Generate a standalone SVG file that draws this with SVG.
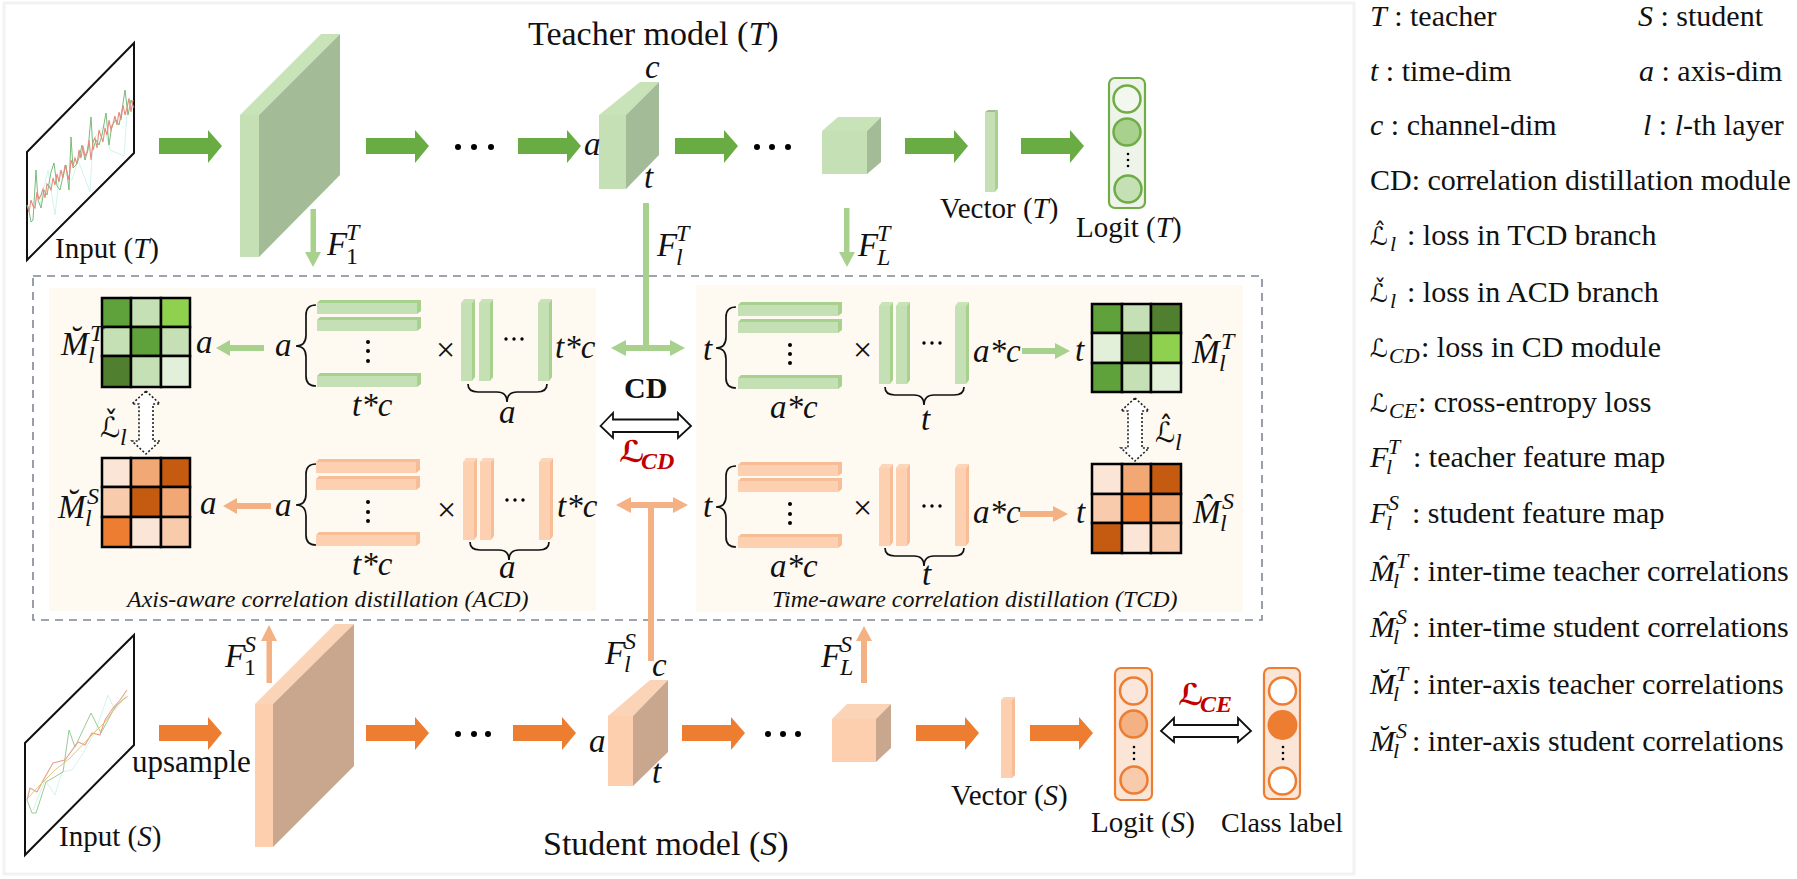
<svg xmlns="http://www.w3.org/2000/svg" width="1797" height="879" viewBox="0 0 1797 879">
<style>
text{font-family:"Liberation Serif","DejaVu Serif",serif;fill:#111}
.t34{font-size:34px}.t28{font-size:29px}.t27{font-size:28px}.t31{font-size:31px}.t30{font-size:30px}.cap{font-size:24px;font-style:italic}
.m{font-size:33px;font-style:italic}.sc{font-size:24px;font-style:italic}.i{font-style:italic}.up{font-style:normal}
.lg{font-size:30px;font-style:normal}.lm{font-size:30px;font-style:italic}.ls{font-size:22px;font-style:italic}
.sl{font-family:"DejaVu Sans",sans-serif;font-size:25px;font-style:normal}
.bold{font-weight:bold}.red{fill:#c00000;font-weight:bold}
.dot{fill:#000}.brace{fill:none;stroke:#111;stroke-width:1.7}
.gthin{fill:#a9d18e}.othin{fill:#f4b183}.gthick{fill:#68ac43}.othick{fill:#ed7d31}
.gf{fill:#c5e0b4}.gt{fill:#c9e3b9}.gs{fill:#a3bb96}.of{fill:#fdcfae}.ot{fill:#fbd3b6}.os{fill:#c9a78e}
.grid{stroke:#000;stroke-width:2.5}
.dbl{fill:#fff;stroke:#111;stroke-width:1.8}.dotarrow{fill:#fff;stroke:#222;stroke-width:1.6;stroke-dasharray:2 2}
.panel{fill:#fefaf2}
.lgreen{fill:#eef4ea;stroke:#70ad47;stroke-width:2.2}.logr{fill:#fbe5d6;stroke:#ed7d31;stroke-width:2.2}
.cg{stroke:#70ad47;stroke-width:2.5}.co{stroke:#ed7d31;stroke-width:2.5}
.inp{fill:#fff;stroke:#111;stroke-width:2}
</style>
<defs>
<path id="thick" d="M0,-8 H49 V-16 L63,0 L49,17 V8 H0Z"/>
<g id="hG"><rect y="3" width="100" height="11" fill="#c5e0b4"/><path d="M0,3 L3,0 H104 L100,3Z M100,3 L104,0 V11 L100,14Z" fill="#a9d18e"/></g>
<g id="hO"><rect y="3" width="100" height="11" fill="#fcd0b0"/><path d="M0,3 L3,0 H104 L100,3Z M100,3 L104,0 V11 L100,14Z" fill="#f6bd97"/></g>
<g id="vG"><rect y="4" width="11" height="78" fill="#c5e0b4"/><path d="M0,4 L3,0 H14 L11,4Z" fill="#c9e3b9"/><path d="M11,4 L14,0 V78 L11,82Z" fill="#a9d18e"/></g>
<g id="vO"><rect y="4" width="11" height="78" fill="#fcd0b0"/><path d="M0,4 L3,0 H14 L11,4Z" fill="#fcd6ba"/><path d="M11,4 L14,0 V78 L11,82Z" fill="#f6bd97"/></g>
<path id="lbrace" class="brace" d="M20,0 Q10,0 10,10 V30 Q10,41 0,41 Q10,41 10,52 V71 Q10,81 20,81"/>
<path id="bbrace" class="brace" d="M0,0 Q0,8 10,8 H29 Q39,8 39,18 Q39,8 49,8 H69 Q79,8 79,0"/>
<path id="dotV" class="dotarrow" d="M0,0 L14,13 H7 V50 H14 L0,63 L-14,50 H-7 V13 H-14Z"/>
</defs>

<rect x="4" y="3" width="1350" height="871" fill="#fff" stroke="#f2f2f2" stroke-width="3"/>

<g id="panels">
<rect id="acd-panel" class="panel" x="49" y="288" width="547" height="323"/>
<rect id="tcd-panel" class="panel" x="696" y="285" width="547" height="327"/>
<rect id="cd-box" x="33" y="276" width="1229" height="344" fill="none" stroke="#7f8896" stroke-width="1.6" stroke-dasharray="8 6"/>
</g>

<g id="connectors">
<use href="#thick" class="gthick" x="159" y="146"/>
<use href="#thick" class="gthick" x="366" y="146"/>
<use href="#thick" class="gthick" x="518" y="146"/>
<use href="#thick" class="gthick" x="675" y="146"/>
<use href="#thick" class="gthick" x="905" y="146"/>
<use href="#thick" class="gthick" x="1021" y="146"/>
<use href="#thick" class="othick" x="159" y="733"/>
<use href="#thick" class="othick" x="366" y="733"/>
<use href="#thick" class="othick" x="513" y="733"/>
<use href="#thick" class="othick" x="682" y="733"/>
<use href="#thick" class="othick" x="916" y="733"/>
<use href="#thick" class="othick" x="1030" y="733"/>
<path class="gthin" d="M310.500,209 H316 V252 H321 L313,267 L305,252 H310.500Z"/>
<path class="gthin" d="M844,208 H849.500 V252 H855 L847,267 L839,252 H844Z"/>
<path class="gthin" d="M643,203 H649 V345 H670 V340 L685,348 L670,356 V351 H626 V356 L611,348 L626,340 V345 H643Z"/>
<path class="gthin" d="M264,345 V351 H230 V356 L216,348 L230,340 V345Z"/>
<path class="gthin" d="M1022,348 V354 H1055 V359 L1070,351 L1055,343 V348Z"/>
<path class="othin" d="M648,661 H654 V508 H673 V513 L688,505 L673,497 V502 H631 V497 L616,505 L631,513 V508 H648Z"/>
<path class="othin" d="M271,503 V509 H237 V514 L223,506 L237,498 V503Z"/>
<path class="othin" d="M1020,511 V517 H1053 V522 L1068,514 L1053,506 V511Z"/>
<path class="othin" d="M266.500,683 H272 V641 H277 L269,625 L261,641 H266.500Z"/>
<path class="othin" d="M861,683 H867 V641 H872 L864,626 L856,641 H861Z"/>
<path class="dbl" d="M600.500,426 L613,413 V419.500 H678 V413 L691,426 L678,438 V432 H613 V438Z"/>
<path class="dbl" d="M1161,731 L1174,718 V725 H1238 V718 L1251,731 L1238,742 V737 H1174 V742Z"/>
<use href="#dotV" x="146" y="391"/>
<use href="#dotV" x="1135" y="398"/>
</g>

<g id="input-t">
<path class="inp" d="M27,152 L134,43 V153 L27,260Z"/>
<polyline fill="none" stroke="#c8f0ea" stroke-width="0.800" points="40,205 48,170 55,215 60,170 72,180 78,160 90,192 93,140 104,125 110,150 124,156 128,100"/>
<polyline fill="none" stroke="#6cb26c" stroke-width="0.900" points="28,206 31,222 33,220 36,170 38,200 41,208 44,190 47,195 51,172 54,163 57,186 60,190 63,176 66,165 69,190 71,137 73,168 76,165 79,158 82,145 85,160 88,150 91,117 93,150 96,140 99,145 102,135 106,113 109,145 112,125 116,120 119,125 122,110 125,90 128,115 131,100 134,108"/>
<polyline fill="none" stroke="#e58b7c" stroke-width="1.100" points="27,205 29,212 31,200 33,206 35,208 37,192 39,199 41,195 43,189 45,198 47,184 49,186 51,190 53,178 55,185 57,174 59,182 61,170 63,178 65,165 67,172 69,180 71,160 73,166 75,158 77,164 79,150 81,158 83,146 85,156 87,152 89,140 91,160 93,142 95,138 97,148 99,130 101,136 103,142 105,128 107,135 109,120 111,130 113,124 115,116 117,125 119,112 121,120 123,105 125,115 127,108 129,98 131,112 133,100"/>
</g>
<g id="input-s">
<path class="inp" d="M25,743 L134,635 V745 L25,855Z"/>
<polyline fill="none" stroke="#c8f0ea" stroke-width="0.800" points="33,810 45,780 55,795 62,772 72,770 82,755 96,730 108,695 115,710 126,695"/>
<polyline fill="none" stroke="#8fc48a" stroke-width="0.900" points="27,800 32,813 36,813 46,782 63,772 69,730 75,747 91,713 101,733 115,707 126,697"/>
<polyline fill="none" stroke="#e8a08e" stroke-width="1.100" points="27,800 30,788 37,792 45,777 53,763 65,760 78,742 85,745 92,733 100,735 105,720 113,708 120,700 127,690"/>
<polyline fill="none" stroke="#dcc070" stroke-width="0.900" points="28,798 40,785 55,770 70,758 90,737 105,722 118,704 128,696"/>
</g>

<g id="block-t1"><rect class="gf" x="240" y="115" width="19" height="142"/><path class="gt" d="M240,115 L321,34 H340 L259,115Z"/><path class="gs" d="M259,115 L340,34 V175 L259,257Z"/></g>
<g id="block-tl"><rect class="gf" x="599" y="115" width="27" height="74"/><path class="gt" d="M599,115 L640,82 H659 L626,115Z"/><path class="gs" d="M626,115 L659,82 V155 L626,189Z"/></g>
<g id="block-tL"><rect class="gf" x="822" y="131" width="45" height="43"/><path class="gt" d="M822,131 L838,117 H881 L867,131Z"/><path class="gs" d="M867,131 L881,117 V162 L867,174Z"/></g>
<g id="vector-t"><rect class="gf" x="985" y="112" width="10" height="80"/><path class="gs" d="M985,112 L988,110 H998 L995,112Z"/><path fill="#a9d18e" d="M995,112 L998,110 V188 L995,192Z"/></g>
<g id="logit-t"><rect class="lgreen" x="1109" y="78" width="36" height="130" rx="6"/>
<circle class="cg" cx="1127" cy="99" r="13.500" fill="#f3f8ef"/><circle class="cg" cx="1127" cy="132" r="13.500" fill="#a9d18e"/><circle class="cg" cx="1128" cy="189" r="13.500" fill="#c5e0b4"/>
<circle class="dot" cx="1128" cy="154" r="1.300"/><circle class="dot" cx="1128" cy="160" r="1.300"/><circle class="dot" cx="1128" cy="166" r="1.300"/></g>

<g id="block-s1"><rect class="of" x="255" y="704" width="18" height="143"/><path class="ot" d="M255,704 L335,624 H354 L273,704Z"/><path class="os" d="M273,704 L354,624 V766 L273,847Z"/></g>
<g id="block-sl"><rect class="of" x="608" y="716" width="25" height="70"/><path class="ot" d="M608,716 L650,680 H668 L633,716Z"/><path class="os" d="M633,716 L668,680 V752 L633,786Z"/></g>
<g id="block-sL"><rect class="of" x="832" y="719" width="44" height="43"/><path class="ot" d="M832,719 L847,704 H891 L876,719Z"/><path class="os" d="M876,719 L891,704 V748 L876,762Z"/></g>
<g id="vector-s"><rect class="of" x="1001" y="700" width="11" height="78"/><path class="ot" d="M1001,700 L1004,697 H1015 L1012,700Z"/><path fill="#f6bd97" d="M1012,700 L1015,697 V775 L1012,778Z"/></g>
<g id="logit-s"><rect class="logr" x="1115" y="668" width="37" height="132" rx="6"/>
<circle class="co" cx="1133.500" cy="691" r="13.500" fill="#fae6da"/><circle class="co" cx="1133.500" cy="724" r="13.500" fill="#f4b183"/><circle class="co" cx="1134" cy="780" r="13.500" fill="#f8cbad"/>
<circle class="dot" cx="1134" cy="747" r="1.300"/><circle class="dot" cx="1134" cy="753" r="1.300"/><circle class="dot" cx="1134" cy="759" r="1.300"/></g>
<g id="class-label"><rect class="logr" x="1264" y="668" width="36" height="131" rx="6"/>
<circle class="co" cx="1282.500" cy="691" r="13.500" fill="#fff"/><circle cx="1282.500" cy="725" r="15" fill="#ed7d31"/><circle class="co" cx="1282.500" cy="781" r="13.500" fill="#fff"/>
<circle class="dot" cx="1283" cy="747" r="1.300"/><circle class="dot" cx="1283" cy="753" r="1.300"/><circle class="dot" cx="1283" cy="759" r="1.300"/></g>

<g id="dots" class="dot">
<circle cx="458" cy="147" r="3"/><circle cx="474" cy="147" r="3"/><circle cx="491" cy="147" r="3"/>
<circle cx="757" cy="147" r="3"/><circle cx="772" cy="147" r="3"/><circle cx="788" cy="147" r="3"/>
<circle cx="458" cy="734" r="3"/><circle cx="474" cy="734" r="3"/><circle cx="488" cy="734" r="3"/>
<circle cx="768" cy="734" r="3"/><circle cx="783" cy="734" r="3"/><circle cx="798" cy="734" r="3"/>
</g>

<g id="matrix-acd-t" class="grid">
<rect x="102" y="298" width="29" height="29" fill="#5fa23c"/><rect x="131" y="298" width="30" height="29" fill="#c5e0b4"/><rect x="161" y="298" width="29" height="29" fill="#8fd14f"/>
<rect x="102" y="327" width="29" height="29" fill="#c5e0b4"/><rect x="131" y="327" width="30" height="29" fill="#5fa23c"/><rect x="161" y="327" width="29" height="29" fill="#c5e0b4"/>
<rect x="102" y="356" width="29" height="31" fill="#507f30"/><rect x="131" y="356" width="30" height="31" fill="#c5e0b4"/><rect x="161" y="356" width="29" height="31" fill="#e2f0d9"/></g>
<g id="matrix-acd-s" class="grid">
<rect x="102" y="458" width="29" height="29" fill="#fbe5d6"/><rect x="131" y="458" width="30" height="29" fill="#f1a875"/><rect x="161" y="458" width="29" height="29" fill="#c55a11"/>
<rect x="102" y="487" width="29" height="30" fill="#f8cbad"/><rect x="131" y="487" width="30" height="30" fill="#c55a11"/><rect x="161" y="487" width="29" height="30" fill="#f1a875"/>
<rect x="102" y="517" width="29" height="30" fill="#ed7d31"/><rect x="131" y="517" width="30" height="30" fill="#fbe5d6"/><rect x="161" y="517" width="29" height="30" fill="#f8cbad"/></g>
<g id="matrix-tcd-t" class="grid">
<rect x="1092" y="304" width="30" height="29" fill="#5fa23c"/><rect x="1122" y="304" width="29" height="29" fill="#c5e0b4"/><rect x="1151" y="304" width="30" height="29" fill="#507f30"/>
<rect x="1092" y="333" width="30" height="30" fill="#e2f0d9"/><rect x="1122" y="333" width="29" height="30" fill="#507f30"/><rect x="1151" y="333" width="30" height="30" fill="#8fd14f"/>
<rect x="1092" y="363" width="30" height="29" fill="#5fa23c"/><rect x="1122" y="363" width="29" height="29" fill="#c5e0b4"/><rect x="1151" y="363" width="30" height="29" fill="#e2f0d9"/></g>
<g id="matrix-tcd-s" class="grid">
<rect x="1092" y="464" width="30" height="30" fill="#fbe5d6"/><rect x="1122" y="464" width="29" height="30" fill="#f1a875"/><rect x="1151" y="464" width="30" height="30" fill="#c55a11"/>
<rect x="1092" y="494" width="30" height="29" fill="#f8cbad"/><rect x="1122" y="494" width="29" height="29" fill="#ed7d31"/><rect x="1151" y="494" width="30" height="29" fill="#f1a875"/>
<rect x="1092" y="523" width="30" height="30" fill="#c55a11"/><rect x="1122" y="523" width="29" height="30" fill="#fbe5d6"/><rect x="1151" y="523" width="30" height="30" fill="#f8cbad"/></g>

<g id="bars-acd-t">
<use href="#hG" x="317" y="300"/><use href="#hG" x="317" y="317"/><use href="#hG" x="317" y="373"/>
<use href="#vG" x="461" y="299"/><use href="#vG" x="479" y="299"/><use href="#vG" x="538" y="299"/>
<use href="#lbrace" x="296" y="305"/><use href="#bbrace" x="468" y="384"/>
<g class="dot"><circle cx="368" cy="342" r="2"/><circle cx="368" cy="351" r="2"/><circle cx="368" cy="361" r="2"/><circle cx="506" cy="339" r="1.700"/><circle cx="514" cy="339" r="1.700"/><circle cx="522" cy="339" r="1.700"/></g>
</g>
<g id="bars-acd-s">
<use href="#hO" x="316" y="459"/><use href="#hO" x="316" y="476"/><use href="#hO" x="316" y="532"/>
<use href="#vO" x="463" y="458"/><use href="#vO" x="480" y="458"/><use href="#vO" x="539" y="458"/>
<use href="#lbrace" x="296" y="464"/><use href="#bbrace" x="470" y="542"/>
<g class="dot"><circle cx="368" cy="502" r="2"/><circle cx="368" cy="512" r="2"/><circle cx="368" cy="521" r="2"/><circle cx="507" cy="500" r="1.700"/><circle cx="515" cy="500" r="1.700"/><circle cx="523" cy="500" r="1.700"/></g>
</g>
<g id="bars-tcd-t">
<use href="#hG" x="738" y="302"/><use href="#hG" x="738" y="319"/><use href="#hG" x="738" y="375"/>
<use href="#vG" x="879" y="302"/><use href="#vG" x="896" y="302"/><use href="#vG" x="955" y="302"/>
<use href="#lbrace" x="716" y="307"/><use href="#bbrace" x="885" y="387"/>
<g class="dot"><circle cx="790" cy="345" r="2"/><circle cx="790" cy="354" r="2"/><circle cx="790" cy="363" r="2"/><circle cx="924" cy="343" r="1.700"/><circle cx="932" cy="343" r="1.700"/><circle cx="940" cy="343" r="1.700"/></g>
</g>
<g id="bars-tcd-s">
<use href="#hO" x="738" y="462"/><use href="#hO" x="738" y="478"/><use href="#hO" x="738" y="534"/>
<use href="#vO" x="879" y="464"/><use href="#vO" x="896" y="464"/><use href="#vO" x="955" y="464"/>
<use href="#lbrace" x="716" y="466"/><use href="#bbrace" x="885" y="548"/>
<g class="dot"><circle cx="790" cy="504" r="2"/><circle cx="790" cy="514" r="2"/><circle cx="790" cy="523" r="2"/><circle cx="924" cy="506" r="1.700"/><circle cx="932" cy="506" r="1.700"/><circle cx="940" cy="506" r="1.700"/></g>
</g>

<g id="labels">
<text class="t34" x="528" y="45">Teacher model (<tspan class="i">T</tspan>)</text>
<text class="t34" x="543" y="855">Student model (<tspan class="i">S</tspan>)</text>
<text class="t28" x="55" y="258">Input (<tspan class="i">T</tspan>)</text>
<text class="t28" x="59" y="846">Input (<tspan class="i">S</tspan>)</text>
<text class="t31" x="132" y="772">upsample</text>
<text class="t28" x="940" y="218">Vector (<tspan class="i">T</tspan>)</text>
<text class="t28" x="1076" y="237">Logit (<tspan class="i">T</tspan>)</text>
<text class="t28" x="951" y="805">Vector (<tspan class="i">S</tspan>)</text>
<text class="t28" x="1091" y="832">Logit (<tspan class="i">S</tspan>)</text>
<text class="t27" x="1221" y="832">Class label</text>
<text class="m" x="584" y="155">a</text><text class="m" x="645" y="78">c</text><text class="m" x="644" y="188">t</text>
<text class="m" x="589" y="752">a</text><text class="m" x="652" y="676">c</text><text class="m" x="652" y="783">t</text>
<text class="m" x="327" y="255">F<tspan class="sc" x="346" y="240">T</tspan><tspan class="sc up" x="346" y="264">1</tspan></text>
<text class="m" x="657" y="256">F<tspan class="sc" x="676" y="241">T</tspan><tspan class="sc" x="676" y="265">l</tspan></text>
<text class="m" x="858" y="256">F<tspan class="sc" x="877" y="241">T</tspan><tspan class="sc" x="877" y="265">L</tspan></text>
<text class="m" x="225" y="667">F<tspan class="sc" x="244" y="652">S</tspan><tspan class="sc up" x="244" y="675">1</tspan></text>
<text class="m" x="605" y="664">F<tspan class="sc" x="624" y="649">S</tspan><tspan class="sc" x="624" y="672">l</tspan></text>
<text class="m" x="821" y="667">F<tspan class="sc" x="840" y="652">S</tspan><tspan class="sc" x="840" y="675">L</tspan></text>

<text class="m" x="61" y="355">M̆<tspan class="sc" x="90" y="341">T</tspan><tspan class="sc" x="88" y="363">l</tspan></text>
<text class="m" x="58" y="518">M̆<tspan class="sc" x="87" y="504">S</tspan><tspan class="sc" x="85" y="526">l</tspan></text>
<text class="m" x="1192" y="363">M̂<tspan class="sc" x="1221" y="349">T</tspan><tspan class="sc" x="1219" y="371">l</tspan></text>
<text class="m" x="1193" y="523">M̂<tspan class="sc" x="1222" y="509">S</tspan><tspan class="sc" x="1220" y="531">l</tspan></text>
<text class="m" x="196" y="353">a</text><text class="m" x="275" y="356">a</text><text class="m" x="555" y="358">t*c</text><text class="m" x="352" y="416">t*c</text><text class="m" x="499" y="423">a</text>
<text class="m" x="200" y="514">a</text><text class="m" x="275" y="516">a</text><text class="m" x="557" y="517">t*c</text><text class="m" x="352" y="575">t*c</text><text class="m" x="499" y="578">a</text>
<text class="m" x="703" y="360">t</text><text class="m" x="973" y="362">a*c</text><text class="m" x="770" y="418">a*c</text><text class="m" x="921" y="430">t</text><text class="m" x="1075" y="361">t</text>
<text class="m" x="703" y="517">t</text><text class="m" x="973" y="523">a*c</text><text class="m" x="770" y="577">a*c</text><text class="m" x="922" y="585">t</text><text class="m" x="1076" y="523">t</text>
<text class="t34" x="436" y="361">×</text><text class="t34" x="437" y="521">×</text><text class="t34" x="853" y="361">×</text><text class="t34" x="853" y="519">×</text>
<text class="m" x="100" y="437"><tspan class="sl" style="font-size:28px">ℒ̌</tspan><tspan class="sc" x="120" y="445">l</tspan></text>
<text class="m" x="1155" y="442"><tspan class="sl" style="font-size:28px">ℒ̂</tspan><tspan class="sc" x="1175" y="450">l</tspan></text>
<text class="t30 bold" x="624" y="398">CD</text>
<text class="m red" x="619" y="462"><tspan class="sl red" style="font-size:30px">ℒ</tspan><tspan class="sc red" x="641" y="469">CD</tspan></text>
<text class="m red" x="1178" y="705"><tspan class="sl red" style="font-size:30px">ℒ</tspan><tspan class="sc red" x="1200" y="712">CE</tspan></text>
<text class="cap" x="127" y="607">Axis-aware correlation distillation (ACD)</text>
<text class="cap" x="772" y="607">Time-aware correlation distillation (TCD)</text>
</g>

<g id="legend">
<text class="lg" x="1370" y="26"><tspan class="i">T</tspan> : teacher</text>
<text class="lg" x="1638" y="26"><tspan class="i">S</tspan> : student</text>
<text class="lg" x="1370" y="81"><tspan class="i">t</tspan> : time-dim</text>
<text class="lg" x="1639" y="81"><tspan class="i">a</tspan> : axis-dim</text>
<text class="lg" x="1370" y="135"><tspan class="i">c</tspan> : channel-dim</text>
<text class="lg" x="1643" y="135"><tspan class="i">l</tspan> : <tspan class="i">l</tspan>-th layer</text>
<text class="lg" x="1370" y="190">CD: correlation distillation module</text>
<text class="lm" x="1370" y="245"><tspan class="sl">ℒ̂</tspan><tspan class="ls" x="1390" y="251">l</tspan><tspan class="lg" x="1407" y="245">: loss in TCD branch</tspan></text>
<text class="lm" x="1370" y="302"><tspan class="sl">ℒ̌</tspan><tspan class="ls" x="1390" y="308">l</tspan><tspan class="lg" x="1407" y="302">: loss in ACD branch</tspan></text>
<text class="lm" x="1370" y="357"><tspan class="sl">ℒ</tspan><tspan class="ls" x="1389" y="363">CD</tspan><tspan class="lg" x="1421" y="357">: loss in CD module</tspan></text>
<text class="lm" x="1370" y="412"><tspan class="sl">ℒ</tspan><tspan class="ls" x="1389" y="418">CE</tspan><tspan class="lg" x="1418" y="412">: cross-entropy loss</tspan></text>
<text class="lm" x="1370" y="467">F<tspan class="ls" x="1388" y="454">T</tspan><tspan class="ls" x="1386" y="474">l</tspan><tspan class="lg" x="1413" y="467">: teacher feature map</tspan></text>
<text class="lm" x="1370" y="523">F<tspan class="ls" x="1388" y="510">S</tspan><tspan class="ls" x="1386" y="530">l</tspan><tspan class="lg" x="1412" y="523">: student feature map</tspan></text>
<text class="lm" x="1370" y="581">M̂<tspan class="ls" x="1396" y="568">T</tspan><tspan class="ls" x="1393" y="588">l</tspan><tspan class="lg" x="1412" y="581">: inter-time teacher correlations</tspan></text>
<text class="lm" x="1370" y="637">M̂<tspan class="ls" x="1396" y="624">S</tspan><tspan class="ls" x="1393" y="644">l</tspan><tspan class="lg" x="1412" y="637">: inter-time student correlations</tspan></text>
<text class="lm" x="1370" y="694">M̆<tspan class="ls" x="1396" y="681">T</tspan><tspan class="ls" x="1393" y="701">l</tspan><tspan class="lg" x="1412" y="694">: inter-axis teacher correlations</tspan></text>
<text class="lm" x="1370" y="751">M̆<tspan class="ls" x="1396" y="738">S</tspan><tspan class="ls" x="1393" y="758">l</tspan><tspan class="lg" x="1412" y="751">: inter-axis student correlations</tspan></text>
</g>
</svg>
